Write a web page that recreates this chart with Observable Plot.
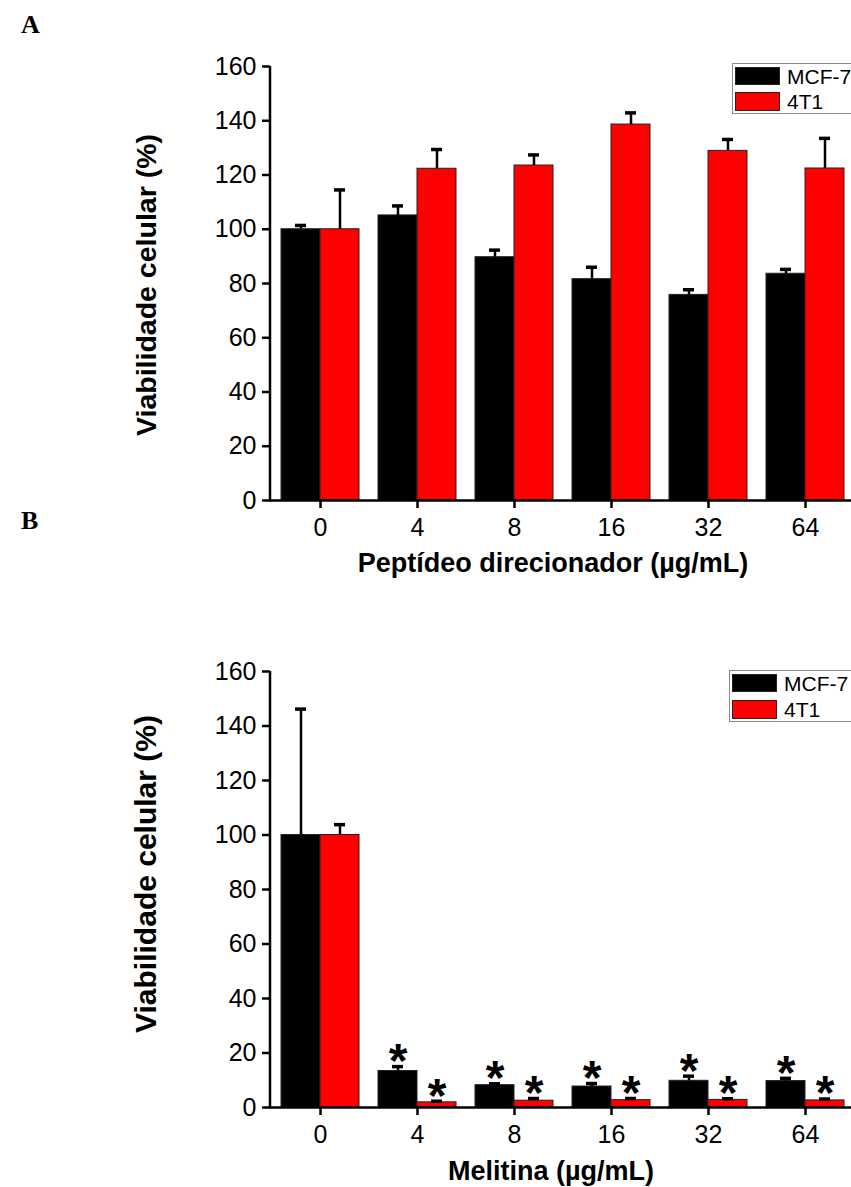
<!DOCTYPE html>
<html>
<head>
<meta charset="utf-8">
<script src="https://cdn.jsdelivr.net/npm/d3@7"></script>
<script src="https://cdn.jsdelivr.net/npm/@observablehq/plot@0.6"></script>
<style>
  html, body { margin: 0; padding: 0; background: #fff; overflow: hidden; }
  #root { position: relative; width: 851px; height: 1187px; overflow: hidden; font-family: "Liberation Sans", Arial, sans-serif; color: #000; }
  .panel { position: absolute; left: 0; }
  .plab { position: absolute; font-family: "Liberation Serif", "Times New Roman", serif; font-weight: bold; font-size: 26px; line-height: 26px; }
  .xt { position: absolute; font-weight: bold; font-size: 27px; line-height: 26px; white-space: nowrap; transform: translateX(-50%); }
  .yt { position: absolute; font-weight: bold; font-size: 28.5px; line-height: 28px; white-space: nowrap; transform: translate(-50%, -50%) rotate(-90deg); }
  .legend { position: absolute; border: 1px solid #8a8a8a; background: #fff; width: 140px; box-sizing: border-box; }
  .sw { position: absolute; left: 2px; width: 45px; box-sizing: border-box; border: 1px solid #222; }
  .lt { position: absolute; left: 54px; font-size: 21px; line-height: 21px; white-space: nowrap; }
</style>
</head>
<body>
<div id="root"></div>
<script>
// ---------- data ----------
const doses = ["0", "4", "8", "16", "32", "64"];
const yTicks = [0, 20, 40, 60, 80, 100, 120, 140, 160];
const seriesNames = ["MCF-7", "4T1"];
const seriesColors = ["#000000", "#ff0000"];

// Panel A: Peptídeo direcionador
const aMcf7 = [100, 105.1, 89.7, 81.6, 75.8, 83.6];
const aMcf7Err = [1.4, 3.5, 2.6, 4.4, 1.9, 1.6];
const a4t1 = [100, 122.3, 123.5, 138.6, 128.9, 122.4];
const a4t1Err = [14.5, 7.1, 3.9, 4.3, 4.2, 11.1];

// Panel B: Melitina
const bMcf7 = [100, 13.4, 8.2, 7.7, 9.8, 9.7];
const bMcf7Err = [46.2, 1.6, 0.5, 1.1, 1.7, 1.0];
const b4t1 = [100, 1.9, 2.5, 2.7, 2.8, 2.6];
const b4t1Err = [3.8, 0.4, 0.8, 0.6, 0.4, 0.5];
const bSignificant = [false, true, true, true, true, true];

const panelLetters = ["A", "B"];
const xTitles = ["Peptídeo direcionador (µg/mL)", "Melitina (µg/mL)"];
const yTitle = "Viabilidade celular (%)";

// ---------- helpers ----------
const root = document.getElementById("root");

function rows(values, errs, sig) {
  return doses.map((d, i) => ({dose: d, value: values[i], err: errs[i], top: values[i] + errs[i], sig: sig ? sig[i] : false}));
}

function makePanel({top, height, marginTop, marginBottom, m, r, sig}) {
  const W = 860, ml = 270, mr = 5;
  const bw = d3.scaleBand().domain(doses).range([ml, W - mr]).paddingInner(0.2).paddingOuter(0.1).bandwidth();
  const rm = rows(m.v, m.e, sig);
  const rr = rows(r.v, r.e, sig);
  const capInset = bw / 2 - 5.5;
  const marks = [
    Plot.barY(rm, {x: "dose", y: "value", fill: seriesColors[0], stroke: "#222", strokeWidth: 1, insetLeft: 0, insetRight: bw / 2}),
    Plot.barY(rr, {x: "dose", y: "value", fill: seriesColors[1], stroke: "#222", strokeWidth: 1, insetLeft: bw / 2, insetRight: 0}),
    Plot.ruleX(rm, {x: "dose", y1: "value", y2: "top", dx: -bw / 4, stroke: "#000", strokeWidth: 2.5}),
    Plot.ruleX(rr, {x: "dose", y1: "value", y2: "top", dx: bw / 4, stroke: "#000", strokeWidth: 2.5}),
    Plot.tickY(rm, {x: "dose", y: "top", dx: -bw / 4, inset: capInset, stroke: "#000", strokeWidth: 3.5}),
    Plot.tickY(rr, {x: "dose", y: "top", dx: bw / 4, inset: capInset, stroke: "#000", strokeWidth: 3.5}),
    Plot.ruleY([0], {stroke: "#000", strokeWidth: 2.5}),
    Plot.axisY({ticks: yTicks, tickSize: 8, tickPadding: 6, fontSize: 25, strokeWidth: 2.5, label: null}),
    Plot.axisX({tickSize: 8, tickPadding: 10, fontSize: 25, strokeWidth: 2.5, label: null})
  ];
  if (sig) {
    marks.push(Plot.text(rm.filter(d => d.sig), {x: "dose", y: "top", text: () => "*", dx: -bw / 4, dy: -5, fontSize: 48, fontWeight: "bold", lineAnchor: "middle"}));
    marks.push(Plot.text(rr.filter(d => d.sig), {x: "dose", y: "top", text: () => "*", dx: bw / 4, dy: -5, fontSize: 48, fontWeight: "bold", lineAnchor: "middle"}));
  }
  const plot = Plot.plot({
    width: W, height, marginTop, marginBottom, marginLeft: ml, marginRight: mr,
    style: {fontFamily: "'Liberation Sans', Arial, sans-serif", color: "#000", background: "transparent", maxWidth: "none", overflow: "visible"},
    x: {domain: doses, paddingInner: 0.2, paddingOuter: 0.1, align: 0.5},
    y: {domain: [0, 160]},
    marks
  });
  // y axis line drawn from the plot's own scales
  const xs = plot.scale("x"), ys = plot.scale("y");
  d3.select(plot).append("line")
    .attr("x1", xs.range[0]).attr("x2", xs.range[0])
    .attr("y1", ys.apply(0) + 1.25).attr("y2", ys.apply(160))
    .attr("stroke", "#000").attr("stroke-width", 2.5);
  const wrap = document.createElement("div");
  wrap.className = "panel";
  wrap.style.top = top + "px";
  wrap.appendChild(plot);
  root.appendChild(wrap);
}

function addDiv(cls, text, styles) {
  const el = document.createElement("div");
  el.className = cls;
  if (text != null) el.textContent = text;
  Object.assign(el.style, styles);
  root.appendChild(el);
  return el;
}

function addLegend(left, top, height, swTops, swHeights, textTops) {
  const box = addDiv("legend", null, {left: left + "px", top: top + "px", height: height + "px"});
  seriesNames.forEach((name, i) => {
    const sw = document.createElement("div");
    sw.className = "sw";
    Object.assign(sw.style, {top: swTops[i] + "px", height: swHeights[i] + "px", background: seriesColors[i]});
    box.appendChild(sw);
    const t = document.createElement("div");
    t.className = "lt";
    t.textContent = name;
    t.style.top = textTops[i] + "px";
    box.appendChild(t);
  });
}

// ---------- panel A ----------
makePanel({top: 0, height: 600, marginTop: 66, marginBottom: 100,
  m: {v: aMcf7, e: aMcf7Err}, r: {v: a4t1, e: a4t1Err}});
addDiv("plab", panelLetters[0], {left: "21px", top: "12px"});
addDiv("xt", xTitles[0], {left: "553px", top: "550px"});
addDiv("yt", yTitle, {left: "146px", top: "285px"});
addLegend(732, 63, 51, [3, 28], [18, 19], [2, 27]);

// ---------- panel B ----------
makePanel({top: 600, height: 587, marginTop: 71, marginBottom: 80,
  m: {v: bMcf7, e: bMcf7Err}, r: {v: b4t1, e: b4t1Err}, sig: bSignificant});
addDiv("plab", panelLetters[1], {left: "21px", top: "508px"});
addDiv("xt", xTitles[1], {left: "551px", top: "1158px"});
addDiv("yt", yTitle, {left: "146px", top: "874px", fontSize: "30px"});
addLegend(729, 670, 52, [3, 29], [18, 19], [2, 28]);
</script>
</body>
</html>
